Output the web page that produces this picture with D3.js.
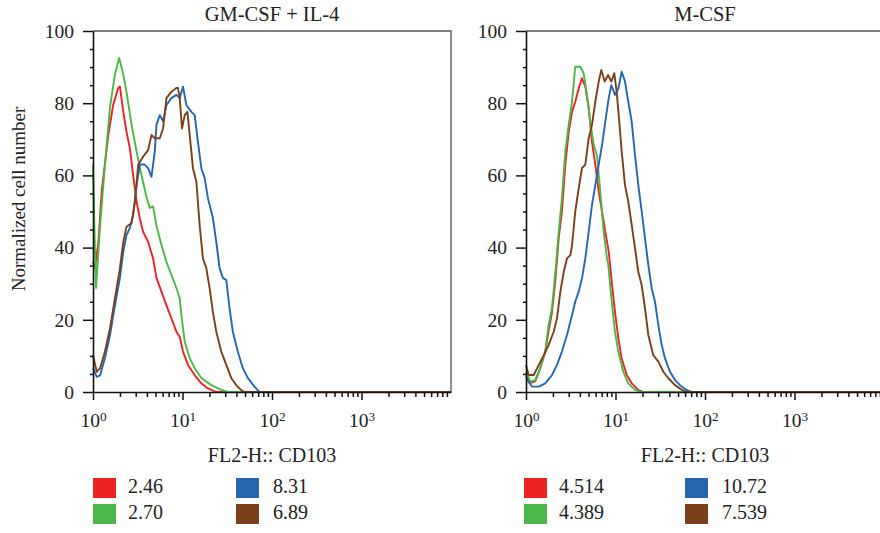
<!DOCTYPE html>
<html>
<head>
<meta charset="utf-8">
<script src="https://cdn.jsdelivr.net/npm/d3@7"></script>
<style>
    body { margin: 0; background: #fff; }
    svg { display: block; font-family: 'Liberation Serif', 'Times New Roman', serif; }
    .axis path, .axis line { stroke: #111; }
    .trace { fill: none; stroke-width: 1.9; stroke-linejoin: round; }
</style>
</head>
<body>
<svg width="880" height="533"></svg>
<script>
'use strict';

// histogram traces: [FL2-H intensity, normalized count]
var gmRed = [[1.0, 36], [1.05, 34.3], [1.15, 41.6], [1.25, 55.5], [1.48, 71], [1.68, 79.5], [1.91, 84.2], [2.0, 84.6],
    [2.18, 77.6], [2.37, 72], [2.58, 67.6], [2.81, 60], [3.07, 52.7], [3.34, 48], [3.63, 44.4], [4.13, 41.6],
    [4.69, 37], [5.12, 31.6], [5.82, 27.8], [6.62, 24], [7.52, 20.4], [8.55, 16.7], [9.31, 15.3], [10.13, 11.2],
    [11.51, 7.5], [13.68, 4.7], [16.23, 2.4], [19.23, 1], [23.85, 0], [10000, 0]];
var gmGreen = [[1.0, 63], [1.05, 40], [1.08, 28.8], [1.2, 46], [1.36, 63], [1.55, 79], [1.76, 88], [1.96, 92.5],
    [2.18, 88], [2.37, 83], [2.7, 74], [3.07, 66.6], [3.49, 60], [3.96, 54], [4.31, 51], [4.69, 51.4], [5.12, 46],
    [5.82, 40.7], [6.62, 36], [7.52, 32.4], [8.55, 28.8], [9.31, 26], [9.72, 21.3], [10.58, 14], [12.03, 9.4],
    [13.68, 6.6], [16.23, 3.9], [20.98, 1.9], [27.12, 0.6], [31.87, 0], [10000, 0]];
var gmBlue = [[1.0, 6.6], [1.1, 4.2], [1.2, 4.6], [1.36, 9.4], [1.55, 15.8], [1.76, 24], [2.0, 31.6], [2.18, 38.9],
    [2.37, 43.5], [2.58, 45.4], [2.81, 49], [3.07, 57.3], [3.34, 63], [3.79, 63], [4.13, 62], [4.5, 59.6],
    [4.9, 66.6], [5.12, 74], [5.57, 76.7], [6.07, 75], [6.62, 79.5], [7.52, 81.4], [8.55, 82.3], [9.31, 81.4],
    [10.13, 84.6], [11.05, 79.5], [12.56, 77.6], [13.68, 76.7], [14.88, 69.3], [16.23, 62], [17.67, 59.3],
    [19.23, 53.7], [21.86, 48.2], [23.85, 41.6], [25.96, 34.3], [28.25, 31.6], [30.83, 31], [33.55, 23.2],
    [36.51, 16.7], [41.5, 11.2], [47.18, 6.6], [53.63, 3.9], [63.68, 1.5], [72.38, 0], [10000, 0]];
var gmBrown = [[1.0, 10.2], [1.1, 5.6], [1.2, 6.6], [1.36, 11.2], [1.55, 17.7], [1.76, 26], [2.0, 34.3], [2.18, 41.6],
    [2.37, 45.8], [2.7, 46.8], [2.94, 52.7], [3.2, 63], [3.63, 65.2], [4.13, 67], [4.5, 71.2], [4.9, 70.3],
    [5.57, 70.3], [6.07, 73], [6.62, 81.4], [7.52, 83.2], [8.55, 84.2], [8.91, 84.2], [9.31, 81.4], [9.87, 73],
    [10.58, 76.7], [11.34, 77.6], [12.03, 71.2], [13.09, 62], [14.28, 58.3], [15.54, 46.3], [16.92, 37],
    [18.46, 34.3], [20.09, 28.8], [21.86, 22.2], [23.85, 16.7], [27.12, 11.2], [30.83, 7.5], [35.04, 3.9],
    [39.83, 1.9], [45.28, 0.5], [49.29, 0], [10000, 0]];

var mRed = [[1.0, 4.5], [1.12, 2.5], [1.27, 3], [1.44, 6.5], [1.64, 11], [1.79, 17], [1.95, 22], [2.13, 31],
    [2.32, 42.6], [2.52, 50], [2.75, 63], [3.0, 72], [3.27, 77.6], [3.55, 80.4], [3.88, 84.1], [4.22, 86.9],
    [4.6, 84.6], [5.02, 78.6], [5.46, 69.3], [5.95, 63], [6.49, 55.5], [7.07, 50], [7.69, 44.4], [8.4, 38.9],
    [9.07, 30.6], [9.87, 22.2], [10.75, 14.9], [11.73, 9.3], [13.34, 4.7], [15.17, 2.4], [17.98, 0.6],
    [20.45, 0], [10000, 0]];
var mGreen = [[1.0, 5.6], [1.12, 2.9], [1.27, 3.3], [1.44, 6.6], [1.64, 11.2], [1.79, 18.6], [1.95, 23.2],
    [2.13, 33.3], [2.32, 44.4], [2.52, 53.7], [2.75, 66.6], [3.0, 74], [3.27, 80.4], [3.55, 90.1], [4.04, 90.1],
    [4.41, 88.3], [4.8, 82.3], [5.23, 74.9], [5.71, 68.4], [6.21, 65.6], [6.76, 55.5], [7.38, 44.4], [8.04, 37],
    [8.31, 35.2], [9.07, 25], [9.87, 16.7], [10.75, 11.2], [12.22, 5.6], [13.9, 2.4], [16.52, 0.6], [19.62, 0],
    [10000, 0]];
var mBlue = [[1.0, 3.8], [1.17, 1.5], [1.39, 1.5], [1.64, 2.4], [1.95, 4.7], [2.22, 7.5], [2.52, 11.2], [2.87, 15.8],
    [3.27, 21.3], [3.55, 25], [3.88, 27.8], [4.22, 31.5], [4.6, 37], [5.02, 44.4], [5.46, 51.8], [5.95, 57.3],
    [6.49, 63], [7.07, 68.4], [7.69, 74.9], [8.4, 81.4], [8.98, 85], [9.87, 82.3], [10.75, 84], [11.73, 88.7],
    [12.77, 86], [13.9, 80.4], [15.17, 74.9], [16.52, 65.6], [17.98, 57.3], [19.62, 50], [21.36, 42.6],
    [23.26, 35.2], [25.38, 28.7], [27.63, 25], [30.08, 18.6], [32.83, 13], [35.74, 9.3], [40.64, 5.6],
    [46.22, 3.3], [52.57, 1.9], [62.45, 0.5], [71.03, 0], [10000, 0]];
var mBrown = [[1.0, 7.5], [1.07, 4.7], [1.22, 4.7], [1.39, 7.5], [1.58, 10.2], [1.79, 13], [2.04, 16.7], [2.22, 20.4],
    [2.42, 27.8], [2.64, 33.3], [2.87, 37], [3.13, 37.9], [3.27, 40.7], [3.55, 50], [3.88, 56.4], [4.22, 62],
    [4.6, 63], [5.02, 70.3], [5.46, 74], [5.95, 80.4], [6.49, 86], [6.94, 89.2], [7.57, 86], [8.25, 87.8],
    [8.98, 86], [9.69, 88.3], [10.31, 83.2], [10.94, 75.8], [11.73, 66.6], [12.77, 57.3], [13.9, 52.7],
    [15.17, 46.3], [16.52, 39.8], [17.98, 33.3], [19.62, 29.6], [21.36, 23.2], [23.26, 15.8], [26.45, 10.2],
    [30.08, 8.4], [34.21, 5.6], [38.9, 3.8], [46.22, 1.9], [54.92, 0.6], [62.45, 0], [10000, 0]];

var traceColors = ['#ed2224', '#4bb748', '#2666b0', '#7a401c'];
var legendLeft = ['2.46', '2.70', '8.31', '6.89'];
var legendRight = ['4.514', '4.389', '10.72', '7.539'];
var yMajor = [0, 20, 40, 60, 80, 100];
var decades = [1, 10, 100, 1000];

var svg = d3.select('svg'),
    plotTop = 31,
    plotBottom = 392,
    plotWidth = 358;

var panels = [
    {title: 'GM-CSF + IL-4', left: 93, series: [gmRed, gmGreen, gmBlue, gmBrown], legend: legendLeft,
        legendX: [93, 236]},
    {title: 'M-CSF', left: 526, series: [mRed, mGreen, mBlue, mBrown], legend: legendRight,
        legendX: [524, 685]}
];

var xTicks = [];
decades.forEach(function(d) {
    for (var i = 1; i < 10; i++) { xTicks.push(d * i); }
});

function isDecade(v) {
    return decades.indexOf(v) >= 0;
}

panels.forEach(function(p) {
    var x = d3.scaleLog().domain([1, 10000]).range([p.left, p.left + plotWidth]);
    var y = d3.scaleLinear().domain([0, 100]).range([plotBottom, plotTop]);
    var g = svg.append('g');

    // frame (top and right)
    g.append('path')
        .attr('d', 'M' + p.left + ',' + plotTop + 'H' + (p.left + plotWidth) + 'V' + plotBottom)
        .attr('fill', 'none')
        .attr('stroke', '#555')
        .attr('stroke-width', 1.3);

    var line = d3.line()
        .x(function(d) { return x(d[0]); })
        .y(function(d) { return y(d[1]); });

    g.selectAll('.trace')
        .data(p.series)
        .enter()
        .append('path')
        .attr('class', 'trace')
        .attr('stroke', function(d, i) { return traceColors[i]; })
        .attr('d', line);

    // x axis
    var xAxis = g.append('g')
        .attr('class', 'axis')
        .attr('transform', 'translate(0,' + plotBottom + ')')
        .call(d3.axisBottom(x).tickValues(xTicks).tickSizeOuter(0).tickFormat(''))
        .attr('font-family', null)
        .attr('font-size', 19.5);
    xAxis.select('.domain').attr('stroke-width', 1.6);
    xAxis.selectAll('.tick line')
        .attr('stroke-width', 1.5)
        .attr('y2', function(d) { return isDecade(d) ? 8 : 5; });
    xAxis.selectAll('.tick text')
        .attr('y', 35)
        .attr('dy', 0)
        .attr('fill', '#222')
        .each(function(d) {
            if (!isDecade(d)) { return; }
            var t = d3.select(this);
            t.append('tspan').text('10');
            t.append('tspan')
                .attr('dy', '-0.45em')
                .attr('font-size', '0.68em')
                .text(Math.round(Math.log10(d)));
        });

    // y axis
    var yAxis = g.append('g')
        .attr('class', 'axis')
        .attr('transform', 'translate(' + p.left + ',0)')
        .call(d3.axisLeft(y).tickValues(d3.range(0, 101, 5)).tickSizeOuter(0)
            .tickFormat(function(d) { return yMajor.indexOf(d) >= 0 ? d : ''; }))
        .attr('font-family', null)
        .attr('font-size', 19.5);
    yAxis.select('.domain').attr('stroke-width', 1.6);
    yAxis.selectAll('.tick line')
        .attr('stroke-width', 1.5)
        .attr('x2', function(d) { return yMajor.indexOf(d) >= 0 ? -10 : -3; });
    yAxis.selectAll('.tick text')
        .attr('x', -19)
        .attr('fill', '#222');

    // titles
    g.append('text')
        .attr('x', p.left + plotWidth / 2)
        .attr('y', 20.5)
        .attr('text-anchor', 'middle')
        .attr('font-size', 20.5)
        .attr('fill', '#222')
        .text(p.title);
    g.append('text')
        .attr('x', p.left + 179)
        .attr('y', 462)
        .attr('text-anchor', 'middle')
        .attr('font-size', 20)
        .attr('fill', '#222')
        .text('FL2-H:: CD103');

    // legend, two columns (red/green, blue/brown)
    var items = g.selectAll('.legend-item')
        .data(p.legend)
        .enter()
        .append('g')
        .attr('class', 'legend-item')
        .attr('transform', function(d, i) {
            return 'translate(' + p.legendX[Math.floor(i / 2)] + ',' + (478 + (i % 2) * 26) + ')';
        });
    items.append('rect')
        .attr('width', 23)
        .attr('height', 20)
        .attr('fill', function(d, i) { return traceColors[i]; });
    items.append('text')
        .attr('x', function(d, i) { return i < 2 ? 35 : 37; })
        .attr('y', 15)
        .attr('font-size', 20)
        .attr('fill', '#222')
        .text(function(d) { return d; });
});

svg.append('text')
    .attr('transform', 'translate(25,199) rotate(-90)')
    .attr('text-anchor', 'middle')
    .attr('font-size', 19)
    .attr('fill', '#222')
    .text('Normalized cell number');
</script>
</body>
</html>
